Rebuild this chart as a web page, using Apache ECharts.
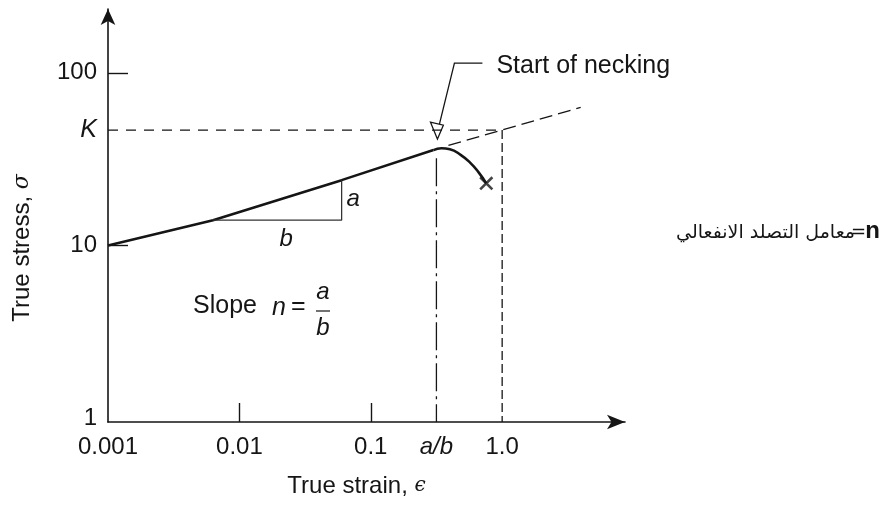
<!DOCTYPE html>
<html>
<head>
<meta charset="utf-8">
<script src="https://cdn.jsdelivr.net/npm/echarts@6/dist/echarts.min.js"></script>
<style>
  html, body { margin: 0; padding: 0; background: #fff; }
  #chart { width: 885px; height: 505px; }
</style>
</head>
<body>
<div id="chart"></div>
<script>
// True stress vs true strain, log-log. Axes are value axes in log10 space;

var K = 46.6;            // strength coefficient (stress at strain 1.0)
var aOverB = 0.316;      // strain at start of necking (= n)

var xTickValues = [0.001, 0.01, 0.1, aOverB, 1.0];
var xTickLabels = ['0.001', '0.01', '0.1', '{i|a/b}', '1.0'];
var xMinorTicks = [0.01, 0.1];

var yTickValues = [1, K, 10, 100];
var yTickLabels = ['1', '{i|K}', '10', '100'];
var yMinorTicks = [10, 100];

// uniform plastic flow (straight on log-log)
var flowStrain = [0.001, 0.0063, 0.06, 0.30];
var flowStress = [10, 14.0, 23.9, 35.7];

// necking, down to fracture
var neckStrain = [0.30, 0.345, 0.40, 0.48, 0.57, 0.66, 0.757];
var neckStress = [35.7, 36.6, 36.1, 33.6, 30.2, 26.6, 22.9];
var fractureStrain = [0.757];
var fractureStress = [22.9];

// extrapolation of the flow line past necking
var extStrain = [0.39, 3.96];
var extStress = [38, 63];

// slope triangle
var triStrain = [0.0063, 0.06, 0.06];
var triStress = [14.0, 14.0, 23.9];

var xMinLog = -3, xMaxLog = 0.935;
var yMinLog = -0.023, yMaxLog = 2.37;

var ink = '#151515';
var font = 'Liberation Sans, Arial, sans-serif';
var fs = 24;

function lg(v) { return Math.log10(v); }
function pairs(xs, ys) { return xs.map(function (x, i) { return [lg(x), lg(ys[i])]; }); }
function labelFor(values, labels) {
  return function (v) {
    for (var i = 0; i < values.length; i++) {
      if (Math.abs(lg(values[i]) - v) < 1e-6) return labels[i];
    }
    return '';
  };
}

var chart = echarts.init(document.getElementById('chart'));

var dashedLine = function (data, type, width) {
  return {
    type: 'line', data: data, symbol: 'none', silent: true,
    lineStyle: { color: ink, width: width || 1.3, type: type }
  };
};

chart.setOption({
  animation: false,
  backgroundColor: '#fff',
  textStyle: { fontFamily: font },
  grid: { left: 108, right: 260, top: 9, bottom: 83 },
  xAxis: {
    type: 'value', min: xMinLog, max: xMaxLog,
    name: 'True strain, {i|ϵ}', nameLocation: 'middle', nameGap: 52,
    nameTextStyle: {
      color: ink, fontSize: fs, fontFamily: font, padding: [0, 20, 0, 0],
      rich: { i: { fontStyle: 'italic', fontSize: 20, fontFamily: 'DejaVu Serif, serif', color: ink } }
    },
    axisLine: { onZero: false, lineStyle: { color: ink, width: 1.6 }, symbol: ['none', 'arrow'], symbolSize: [11, 18] },
    axisTick: { show: true, inside: true, length: 19, customValues: xMinorTicks.map(lg), lineStyle: { color: ink, width: 1.4 } },
    axisLabel: {
      customValues: xTickValues.map(lg), formatter: labelFor(xTickValues, xTickLabels),
      color: ink, fontSize: fs, margin: 13, fontFamily: font,
      rich: { i: { fontStyle: 'italic', fontSize: fs, fontFamily: font, color: ink } }
    },
    splitLine: { show: false }
  },
  yAxis: {
    type: 'value', min: yMinLog, max: yMaxLog,
    axisLine: { onZero: false, lineStyle: { color: ink, width: 1.6 }, symbol: ['none', 'arrow'], symbolSize: [11, 16] },
    axisTick: { show: true, inside: true, length: 20, customValues: yMinorTicks.map(lg), lineStyle: { color: ink, width: 1.4 } },
    axisLabel: {
      customValues: yTickValues.map(lg), formatter: labelFor(yTickValues, yTickLabels),
      color: ink, fontSize: fs, margin: 11, fontFamily: font,
      rich: { i: { fontStyle: 'italic', fontSize: fs + 1, fontFamily: font, color: ink } }
    },
    splitLine: { show: false }
  },
  series: [
    { type: 'line', data: pairs(flowStrain, flowStress), symbol: 'none', silent: true,
      lineStyle: { color: ink, width: 2.6 } },
    { type: 'line', data: pairs(neckStrain, neckStress), symbol: 'none', smooth: true, silent: true,
      lineStyle: { color: ink, width: 2.6 } },
    { type: 'scatter', data: pairs(fractureStrain, fractureStress), silent: true,
      symbol: 'path://M0,1.3L1.3,0L10,8.7L8.7,10ZM8.7,0L10,1.3L1.3,10L0,8.7Z', symbolSize: 14,
      itemStyle: { color: ink } },
    dashedLine(pairs(extStrain, extStress), [13, 6]),
    dashedLine(pairs([0.001, 1.0], [K, K]), [10, 8]),
    dashedLine([[lg(aOverB), lg(32)], [lg(aOverB), yMinLog]], [28, 5, 3, 5]),
    dashedLine([[lg(1.0), lg(K)], [lg(1.0), yMinLog]], [9, 4]),
    { type: 'line', data: pairs(triStrain, triStress), symbol: 'none', silent: true,
      lineStyle: { color: '#333', width: 1.3 } }
  ]
});

// annotations, anchored to data points where it makes sense
var tip = chart.convertToPixel({ gridIndex: 0 }, [lg(aOverB), lg(K)]);
var triCorner = chart.convertToPixel({ gridIndex: 0 }, [lg(triStrain[1]), lg(triStress[1])]);

function txt(x, y, text, opts) {
  opts = opts || {};
  return {
    type: 'text', x: x, y: y, silent: true, rotation: opts.rotation || 0,
    style: {
      text: text, fill: ink, font: (opts.italic ? 'italic ' : '') + (opts.bold ? 'bold ' : '') + (opts.size || fs) + 'px ' + (opts.family || font),
      align: opts.align || 'left', verticalAlign: 'middle', rich: opts.rich
    }
  };
}

chart.setOption({
  graphic: [
    // y axis title
    txt(22, 248, 'True stress, {i|σ}', {
      rotation: Math.PI / 2, align: 'center',
      rich: { i: { fontStyle: 'italic', fontSize: 22, fontFamily: 'DejaVu Serif, serif', fill: ink } }
    }),
    // "Start of necking" leader
    { type: 'polyline', silent: true, shape: { points: [[tip[0] + 46, tip[1] - 67], [tip[0] + 18, tip[1] - 67], [tip[0] + 3, tip[1] - 6]] },
      style: { stroke: ink, lineWidth: 1.3, fill: null } },
    { type: 'polygon', silent: true, shape: { points: [[tip[0] - 6, tip[1] - 8], [tip[0] + 7, tip[1] - 5], [tip[0] + 1, tip[1] + 9]] },
      style: { stroke: ink, lineWidth: 1.2, fill: '#fff' } },
    txt(tip[0] + 60, tip[1] - 64, 'Start of necking', { size: 25 }),
    // slope triangle labels
    txt(triCorner[0] + 5, triCorner[1] - 21, 'a', { italic: true }),
    txt(triCorner[0] - 62, triCorner[1] + 19, 'b', { italic: true }),
    txt(193, 306, 'Slope', { size: 25 }),
    txt(272, 308, 'n', { italic: true, size: 25 }),
    txt(291, 307, '=', { size: 25 }),
    txt(323, 292, 'a', { italic: true, align: 'center' }),
    { type: 'line', silent: true, shape: { x1: 316, y1: 311, x2: 330, y2: 311 }, style: { stroke: ink, lineWidth: 1.2 } },
    txt(323, 328, 'b', { italic: true, align: 'center' }),
    // side note
    txt(880, 231, 'n', { bold: true, size: 24, align: 'right' }),
    txt(866, 232, '=', { size: 18, align: 'right', family: 'DejaVu Sans' }),
    txt(855, 233, 'معامل التصلد الانفعالي', { size: 19, align: 'right', family: 'DejaVu Sans' })
  ]
});
</script>
</body>
</html>
